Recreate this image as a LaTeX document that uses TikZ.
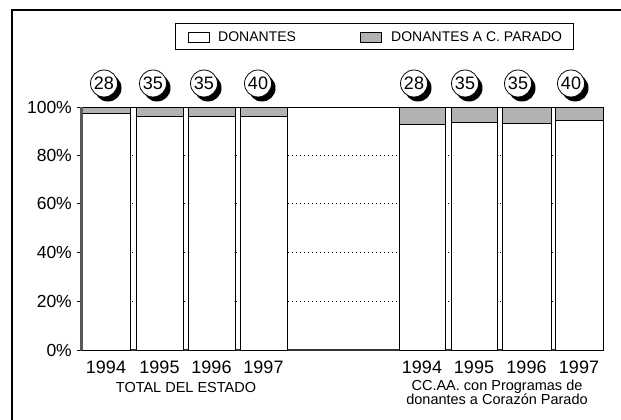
\documentclass[tikz,border=0pt]{standalone}
\usepackage{fontspec}
\setmainfont{Liberation Sans}

\begin{document}
\begin{tikzpicture}[x=1pt, y=-1pt,
    bar/.style={draw, fill=white, line width=0.9pt},
    topcap/.style={draw, fill=gray!60, line width=0.9pt},
    badge/.style={circle, draw, fill=white, minimum size=27pt, inner sep=0pt,
        line width=0.8pt, font=\fontsize{18}{18}\selectfont},
    shade/.style={fill=black},
    pct/.style={anchor=east, inner sep=0pt, font=\fontsize{17.5}{17.5}\selectfont},
    year/.style={inner sep=0pt, font=\fontsize{18}{18}\selectfont},
    grp/.style={inner sep=0pt, align=center, font=\fontsize{14.5}{14}\selectfont},
    swatch/.style={draw, minimum width=21pt, minimum height=10pt, inner sep=0pt, line width=0.8pt}]
    \useasboundingbox (0,0) rectangle (621,420);

    % Frame
    \draw[line width=1.2pt] (12,420) -- (12,10) -- (621,10);

    % Legend
    \node[draw, line width=0.8pt, minimum width=398pt, minimum height=26pt, inner sep=0pt] (legend) at (374,36) {};
    \node[swatch, fill=white] (swdon) at (198.5,37) {};
    \node[swatch, fill=gray!60] (swpar) at (370.5,37) {};
    \node[anchor=west, inner sep=0pt, font=\fontsize{14}{14}\selectfont] (ldon) at (218,37) {DONANTES};
    \node[anchor=west, inner sep=0pt, font=\fontsize{14}{14}\selectfont] (lpar) at (391,37) {DONANTES A C. PARADO};

    % Grid and axes
    \draw[dash pattern=on 1pt off 3pt, line width=0.7pt] (80,155) -- (603,155);
    \draw[dash pattern=on 1pt off 3pt, line width=0.7pt] (80,203) -- (603,203);
    \draw[dash pattern=on 1pt off 3pt, line width=0.7pt] (80,252) -- (603,252);
    \draw[dash pattern=on 1pt off 3pt, line width=0.7pt] (80,301) -- (603,301);
    \draw[line width=0.9pt] (80,107) -- (603,107);
    \draw[gray!40!black, line width=1.2pt] (80,350) -- (604,350);
    \draw[line width=0.9pt] (77,107) -- (80,107);
    \draw[line width=0.9pt] (77,155) -- (80,155);
    \draw[line width=0.9pt] (77,203) -- (80,203);
    \draw[line width=0.9pt] (77,252) -- (80,252);
    \draw[line width=0.9pt] (77,301) -- (80,301);
    \draw[line width=0.9pt] (77,350) -- (80,350);

    % Bars, total
    \draw[bar] (82,107) rectangle (130,350);
    \draw[bar] (136,107) rectangle (183,350);
    \draw[bar] (188,107) rectangle (235,350);
    \draw[bar] (240,107) rectangle (287,350);
    \draw[topcap] (82,107) rectangle (130,113);
    \draw[topcap] (136,107) rectangle (183,116);
    \draw[topcap] (188,107) rectangle (235,116);
    \draw[topcap] (240,107) rectangle (287,116);
    \draw[gray!70!black, line width=2.5pt] (81.5,107) -- (81.5,350);

    % Bars, CC.AA.
    \draw[bar] (399,107) rectangle (445,350);
    \draw[bar] (451,107) rectangle (497,350);
    \draw[bar] (502,107) rectangle (551,350);
    \draw[bar] (555,107) rectangle (603,350);
    \draw[topcap] (399,107) rectangle (445,124);
    \draw[topcap] (451,107) rectangle (497,122);
    \draw[topcap] (502,107) rectangle (551,123);
    \draw[topcap] (555,107) rectangle (603,120);

    % Badges
    \fill[shade] (108,88) circle (13.5);
    \fill[shade] (157,88) circle (13.5);
    \fill[shade] (208,88) circle (13.5);
    \fill[shade] (262,88) circle (13.5);
    \fill[shade] (418,88) circle (13.5);
    \fill[shade] (469,88) circle (13.5);
    \fill[shade] (522,88) circle (13.5);
    \fill[shade] (575,88) circle (13.5);
    \node[badge] (t94) at (104,83.5) {28};
    \node[badge] (t95) at (153,83.5) {35};
    \node[badge] (t96) at (204,83.5) {35};
    \node[badge] (t97) at (258,83.5) {40};
    \node[badge] (c94) at (414,83.5) {28};
    \node[badge] (c95) at (465,83.5) {35};
    \node[badge] (c96) at (518,83.5) {35};
    \node[badge] (c97) at (571,83.5) {40};

    % Labels
    \node[pct] (p100) at (72,107) {100\%};
    \node[pct] (p80) at (72,155) {80\%};
    \node[pct] (p60) at (72,203) {60\%};
    \node[pct] (p40) at (72,252) {40\%};
    \node[pct] (p20) at (72,301) {20\%};
    \node[pct] (p0) at (72,350) {0\%};
    \node[year] (yt94) at (106,367) {1994};
    \node[year] (yt95) at (159.5,367) {1995};
    \node[year] (yt96) at (211.5,367) {1996};
    \node[year] (yt97) at (263.5,367) {1997};
    \node[year] (yc94) at (422,367) {1994};
    \node[year] (yc95) at (474,367) {1995};
    \node[year] (yc96) at (526.5,367) {1996};
    \node[year] (yc97) at (579,367) {1997};
    \node[grp] (gtot) at (186,388) {TOTAL DEL ESTADO};
    \node[grp] (gcca) at (497,392) {CC.AA. con Programas de\\donantes a Corazón Parado};
\end{tikzpicture}
\end{document}
